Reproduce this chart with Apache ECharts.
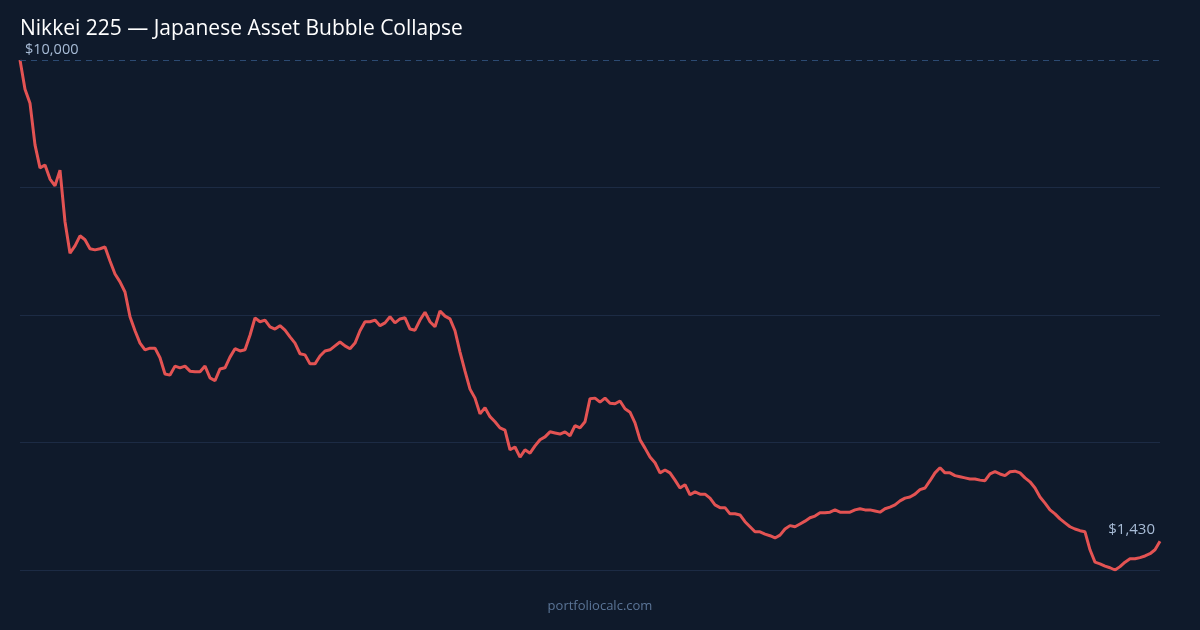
<!DOCTYPE html>
<html>
<head>
<meta charset="utf-8">
<script src="https://cdn.jsdelivr.net/npm/echarts@6/dist/echarts.min.js"></script>
<style>
html,body{margin:0;padding:0;background:#0f1a2b;}
#chart{width:1200px;height:630px;}
</style>
</head>
<body>
<div id="chart"></div>
<script>
// Portfolio value (USD) of a $10,000 investment, monthly
const values = [
10000, 9480, 9230, 8490, 8080, 8130, 7880, 7760, 8040, 7120,
6560, 6690, 6870, 6800, 6640, 6620, 6640, 6670, 6420, 6190,
6050, 5870, 5430, 5180, 4960, 4840, 4870, 4870, 4700, 4410,
4390, 4550, 4520, 4550, 4460, 4450, 4450, 4550, 4340, 4290,
4500, 4520, 4710, 4860, 4820, 4840, 5100, 5410, 5340, 5370,
5250, 5210, 5270, 5190, 5070, 4960, 4770, 4750, 4590, 4590,
4730, 4820, 4840, 4910, 4980, 4910, 4860, 4960, 5180, 5340,
5340, 5370, 5270, 5320, 5430, 5320, 5390, 5410, 5210, 5190,
5370, 5510, 5340, 5250, 5530, 5440, 5390, 5180, 4800, 4460,
4140, 3980, 3700, 3810, 3650, 3560, 3450, 3410, 3060, 3110,
2930, 3060, 3000, 3130, 3240, 3290, 3380, 3360, 3340, 3380,
3310, 3490, 3450, 3560, 3970, 3980, 3910, 3980, 3890, 3880,
3930, 3790, 3730, 3540, 3240, 3090, 2930, 2830, 2650, 2700,
2650, 2520, 2380, 2440, 2260, 2310, 2270, 2270, 2200, 2080,
2030, 2030, 1920, 1920, 1900, 1780, 1690, 1600, 1600, 1560,
1530, 1490, 1540, 1650, 1710, 1690, 1740, 1790, 1850, 1880,
1940, 1940, 1950, 1990, 1950, 1950, 1950, 1990, 2010, 1990,
1990, 1970, 1950, 2010, 2040, 2080, 2150, 2200, 2220, 2270,
2350, 2380, 2510, 2650, 2740, 2650, 2650, 2600, 2580, 2560,
2540, 2540, 2520, 2510, 2630, 2670, 2630, 2600, 2670, 2680,
2650, 2560, 2490, 2380, 2220, 2110, 1990, 1920, 1830, 1760,
1690, 1650, 1620, 1600, 1280, 1060, 1030, 990, 960, 920,
980, 1060, 1120, 1120, 1140, 1170, 1210, 1280, 1430
];

// Month labels, Jan 1990 onward
const startYear = 1990;
const categories = values.map((_, i) => {
  const y = startYear + Math.floor(i / 12);
  const m = (i % 12) + 1;
  return y + '-' + (m < 10 ? '0' + m : m);
});

const startValue = values[0];
const endValue = values[values.length - 1];

const fmt = v => '$' + Math.round(v).toLocaleString('en-US');

const yMin = Math.min(...values);
const yMax = Math.max(...values);
const gridColor = '#1c2b44';
const FONT = 'Open Sans, Noto Sans, sans-serif';

const chart = echarts.init(document.getElementById('chart'), null, {renderer: 'canvas'});
chart.setOption({
  backgroundColor: '#0f1a2b',
  animation: false,
  textStyle: {fontFamily: FONT},
  title: {
    text: 'Nikkei 225 \u2014 Japanese Asset Bubble Collapse',
    left: 15,
    top: 14,
    textStyle: {color: '#ffffff', fontSize: 21, fontWeight: 'normal', fontFamily: FONT}
  },
  graphic: [{
    type: 'text',
    left: 'center',
    top: 600,
    style: {text: 'portfoliocalc.com', fill: '#5b7597', fontSize: 13, fontFamily: FONT}
  }],
  grid: {left: 20, right: 40, top: 60, bottom: 60},
  xAxis: {
    type: 'category',
    data: categories,
    boundaryGap: false,
    axisLine: {show: false},
    axisTick: {show: false},
    axisLabel: {show: false},
    splitLine: {show: false}
  },
  yAxis: {
    type: 'value',
    min: yMin,
    max: yMax,
    interval: (yMax - yMin) / 4,
    axisLine: {show: false},
    axisTick: {show: false},
    axisLabel: {show: false},
    splitLine: {show: true, lineStyle: {color: [gridColor, gridColor, gridColor, gridColor, 'rgba(0,0,0,0)'], width: 1}}
  },
  series: [{
    type: 'line',
    data: values,
    symbol: 'none',
    smooth: false,
    lineStyle: {color: '#e35353', width: 3},
    markLine: {
      silent: true,
      symbol: 'none',
      label: {show: false},
      lineStyle: {color: '#2c4a72', type: [6, 5], width: 1},
      data: [{yAxis: startValue}]
    },
    markPoint: {
      symbol: 'circle',
      symbolSize: 0,
      silent: true,
      data: [
        {coord: [0, startValue], value: startValue,
         label: {position: 'right', distance: 5, offset: [0, -10], formatter: () => fmt(startValue), fontSize: 14.5}},
        {coord: [values.length - 1, endValue], value: endValue,
         label: {position: 'left', distance: 5, offset: [0, -12], formatter: () => fmt(endValue), fontSize: 15}}
      ],
      label: {show: true, color: '#a8bcd6', fontSize: 14, fontFamily: FONT}
    }
  }]
});
</script>
</body>
</html>
